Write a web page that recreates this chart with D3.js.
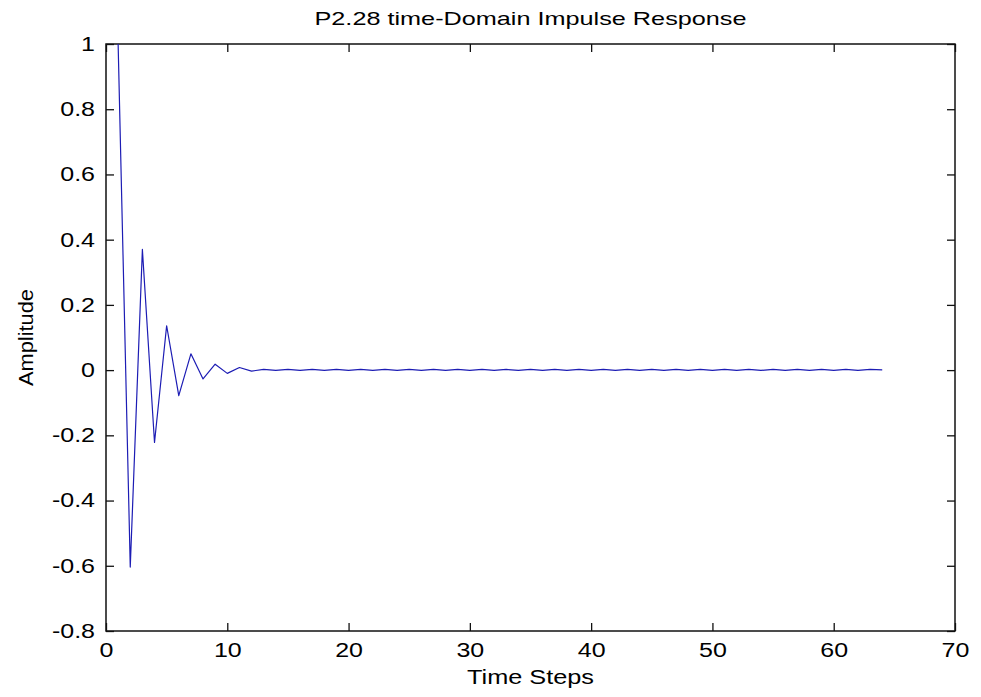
<!DOCTYPE html>
<html>
<head>
<meta charset="utf-8">
<script src="https://cdn.jsdelivr.net/npm/d3@7"></script>
<style>
  body { margin: 0; background: #fff; }
  svg { display: block; }
  text { font-family: "Liberation Sans", Arial, sans-serif; fill: #000; }
</style>
</head>
<body>
<div id="chart"></div>
<script>
// data
var titleText = "P2.28 time-Domain Impulse Response";
var xLabel = "Time Steps";
var yLabel = "Amplitude";

var xTicks = [0, 10, 20, 30, 40, 50, 60, 70];
var yTicks = [-0.8, -0.6, -0.4, -0.2, 0, 0.2, 0.4, 0.6, 0.8, 1];

var steps = d3.range(1, 65);
var amplitude = [
  1, -0.604, 0.37, -0.222, 0.136, -0.078, 0.05, -0.027, 0.018, -0.01,
  0.008, -0.003, 0.002, -0.001, 0.002, -0.001, 0.002, -0.001, 0.002, -0.001,
  0.002, -0.001, 0.002, -0.001, 0.002, -0.001, 0.002, -0.001, 0.002, -0.001,
  0.002, -0.001, 0.002, -0.001, 0.002, -0.001, 0.002, -0.001, 0.002, -0.001,
  0.002, -0.001, 0.002, -0.001, 0.002, -0.001, 0.002, -0.001, 0.002, -0.001,
  0.002, -0.001, 0.002, -0.001, 0.002, -0.001, 0.002, -0.001, 0.002, -0.001,
  0.002, -0.001, 0.002, 0.001
];

var width = 981, height = 697;
var margin = {top: 44, right: 26, bottom: 66, left: 106};
var stretch = 1.25;

var svg = d3.select("#chart")
  .append("svg")
    .attr("width", width)
    .attr("height", height);

var x = d3.scaleLinear()
  .domain([0, 70])
  .range([margin.left, width - margin.right]);

var y = d3.scaleLinear()
  .domain([-0.8, 1])
  .range([height - margin.bottom, margin.top]);

var fmt = function(d) { return d3.format("")(+d.toFixed(1)).replace("−", "-"); };

// bottom axis (ticks point inward)
var gx = svg.append("g")
  .attr("transform", "translate(0," + y.range()[0] + ")")
  .call(d3.axisBottom(x).tickValues(xTicks).tickSizeInner(-8).tickSizeOuter(0).tickPadding(12));
gx.selectAll("text")
  .attr("transform", "scale(" + stretch + ",1)")
  .style("font-size", "20px");

// left axis
var gy = svg.append("g")
  .attr("transform", "translate(" + x.range()[0] + ",0)")
  .call(d3.axisLeft(y).tickValues(yTicks).tickFormat(fmt).tickSizeInner(-8).tickSizeOuter(0).tickPadding(0));
gy.selectAll("text")
  .attr("x", -11 / stretch)
  .attr("transform", "scale(" + stretch + ",1)")
  .style("font-size", "20px");

// top and right axes, ticks only
svg.append("g")
  .attr("transform", "translate(0," + y.range()[1] + ")")
  .call(d3.axisTop(x).tickValues(xTicks).tickSizeInner(-8).tickSizeOuter(0).tickFormat(""));
svg.append("g")
  .attr("transform", "translate(" + x.range()[1] + ",0)")
  .call(d3.axisRight(y).tickValues(yTicks).tickSizeInner(-8).tickSizeOuter(0).tickFormat(""));

svg.selectAll(".domain").remove();
svg.selectAll(".tick line").attr("stroke", "#111").attr("stroke-width", 1.3);

// box
svg.append("rect")
  .attr("x", x.range()[0])
  .attr("y", y.range()[1])
  .attr("width", x.range()[1] - x.range()[0])
  .attr("height", y.range()[0] - y.range()[1])
  .attr("fill", "none")
  .attr("stroke", "#111")
  .attr("stroke-width", 1.5);

// the response
var line = d3.line()
  .x(function(d, i) { return x(steps[i]); })
  .y(function(d) { return y(d); });

svg.append("path")
  .datum(amplitude)
  .attr("fill", "none")
  .attr("stroke", "#1c1cb4")
  .attr("stroke-width", 1.2)
  .attr("stroke-linejoin", "round")
  .attr("d", line);

// titles
svg.append("text")
  .attr("x", (x.range()[0] + x.range()[1]) / 2)
  .attr("y", 25)
  .attr("text-anchor", "middle")
  .attr("textLength", 432)
  .attr("lengthAdjust", "spacingAndGlyphs")
  .style("font-size", "19px")
  .text(titleText);

svg.append("text")
  .attr("x", (x.range()[0] + x.range()[1]) / 2)
  .attr("y", 684)
  .attr("text-anchor", "middle")
  .attr("textLength", 127)
  .attr("lengthAdjust", "spacingAndGlyphs")
  .style("font-size", "20px")
  .text(xLabel);

svg.append("text")
  .attr("transform", "translate(33," + (y.range()[0] + y.range()[1]) / 2 + ") rotate(-90)")
  .attr("text-anchor", "middle")
  .attr("textLength", 97)
  .attr("lengthAdjust", "spacingAndGlyphs")
  .style("font-size", "20px")
  .text(yLabel);
</script>
</body>
</html>
